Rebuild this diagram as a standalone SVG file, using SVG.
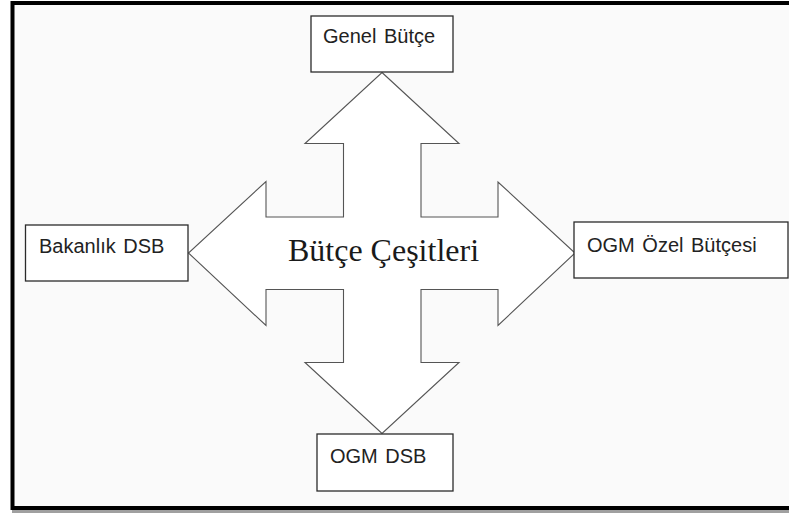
<svg xmlns="http://www.w3.org/2000/svg" width="789" height="513" viewBox="0 0 789 513">
  <style>
    .box { fill: #ffffff; stroke: #2b2b2b; stroke-width: 1.3; }
    .lbl { font-family: "Liberation Sans", Arial, sans-serif; font-size: 20px; fill: #222222; word-spacing: 2px; }
    .arrow { fill: #ffffff; stroke: #555555; stroke-width: 1.1; stroke-linejoin: miter; }
    .title { font-family: "Liberation Serif", "Times New Roman", serif; font-size: 32px; fill: #1a1a1a; }
  </style>
  <rect x="0" y="0" width="789" height="513" fill="#ffffff"/>
  <rect x="12.5" y="3" width="790" height="505" fill="#fafafa" stroke="#000000" stroke-width="4"/>
  <rect x="12" y="510" width="777" height="3" fill="#a0a0a0"/>
  <g id="connectors">
    <polygon class="arrow" points="382,72.5 459,143.5 421,143.5 421,217 498,217 498,182 575,253 498,325.5 498,289.5 421,289.5 421,362.5 459,362.5 382,433.5 305,362.5 343.5,362.5 343.5,289.5 266,289.5 266,325.5 188.5,253 266,181.5 266,217 343.5,217 343.5,143.5 305,143.5"/>
    <text class="title" x="383.5" y="261" text-anchor="middle">Bütçe Çeşitleri</text>
  </g>
  <g id="genel-butce">
    <rect class="box" x="311" y="16" width="142" height="56"/>
    <text class="lbl" x="323" y="43">Genel Bütçe</text>
  </g>
  <g id="bakanlik-dsb">
    <rect class="box" x="25.5" y="225" width="162.5" height="56"/>
    <text class="lbl" x="39" y="253">Bakanlık DSB</text>
  </g>
  <g id="ogm-ozel-butcesi">
    <rect class="box" x="574" y="222" width="214" height="56"/>
    <text class="lbl" x="587" y="252">OGM Özel Bütçesi</text>
  </g>
  <g id="ogm-dsb">
    <rect class="box" x="317" y="434" width="136" height="57"/>
    <text class="lbl" x="330" y="463">OGM DSB</text>
  </g>
</svg>
